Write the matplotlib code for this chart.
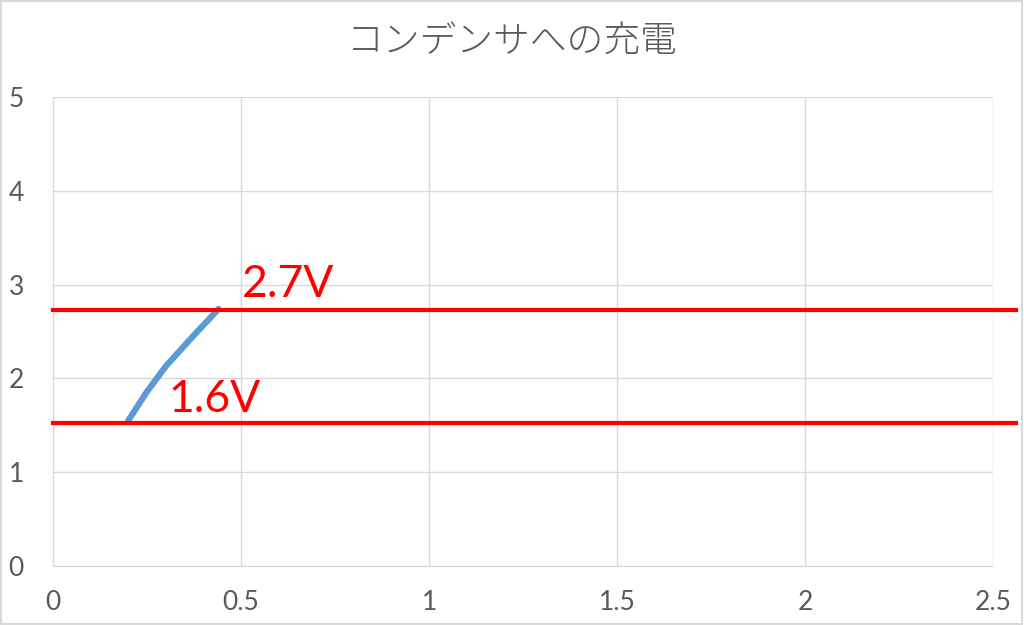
import matplotlib.pyplot as plt
from matplotlib.patches import Rectangle

# 充電カーブ (時間, 電圧)
t = [0.2, 0.25, 0.3, 0.37, 0.44]
v = [1.55, 1.86, 2.13, 2.44, 2.74]

# 基準線
levels = [2.73, 1.525]
level_labels = ['2.7V', '1.6V']
level_label_pos = [(0.503, 2.87), (0.306, 1.64)]

xticks = [0, 0.5, 1, 1.5, 2, 2.5]
xticklabels = ['0', '0.5', '1', '1.5', '2', '2.5']
yticks = [0, 1, 2, 3, 4, 5]

plt.rcParams['font.family'] = ['Noto Sans CJK JP', 'DejaVu Sans']

fig = plt.figure(figsize=(10.24, 6.25), dpi=100)
ax = fig.add_axes([0.0518, 0.0944, 0.9180, 0.7504])

ax.plot(t, v, color='#5B9BD5', lw=4.5, solid_capstyle='round', zorder=3)
for y in levels:
    ax.plot([0, 2.562], [y, y], color='#FF0000', lw=3, clip_on=False, zorder=4)
for lab, (x, y) in zip(level_labels, level_label_pos):
    ax.text(x, y, lab, color='#FF0000', fontsize=32, ha='left', va='baseline',
            family=['Lato', 'DejaVu Sans'])

ax.set_xlim(0, 2.5)
ax.set_ylim(0, 5)
ax.set_xticks(xticks)
ax.set_xticklabels(xticklabels)
ax.set_yticks(yticks)
ax.grid(True, color='#D9D9D9', lw=1)
ax.set_axisbelow(True)
for s in ['top', 'right']:
    ax.spines[s].set_visible(False)
for s in ['left', 'bottom']:
    ax.spines[s].set_color('#D9D9D9')
ax.tick_params(length=0, colors='#595959', labelsize=19)
ax.tick_params(axis='x', pad=17)
ax.tick_params(axis='y', pad=21)
for lab in ax.get_xticklabels() + ax.get_yticklabels():
    lab.set_family(['Lato', 'DejaVu Sans'])

fig.text(0.5, 0.932, 'コンデンサへの充電', ha='center', va='center',
         fontsize=26.5, color='#595959', fontweight='light')

fig.patches.append(Rectangle((0.001, 0.001), 0.997, 0.997, transform=fig.transFigure,
                             fill=False, edgecolor='#D9D9D9', lw=1.5))

fig.savefig('out.png', dpi=100)
